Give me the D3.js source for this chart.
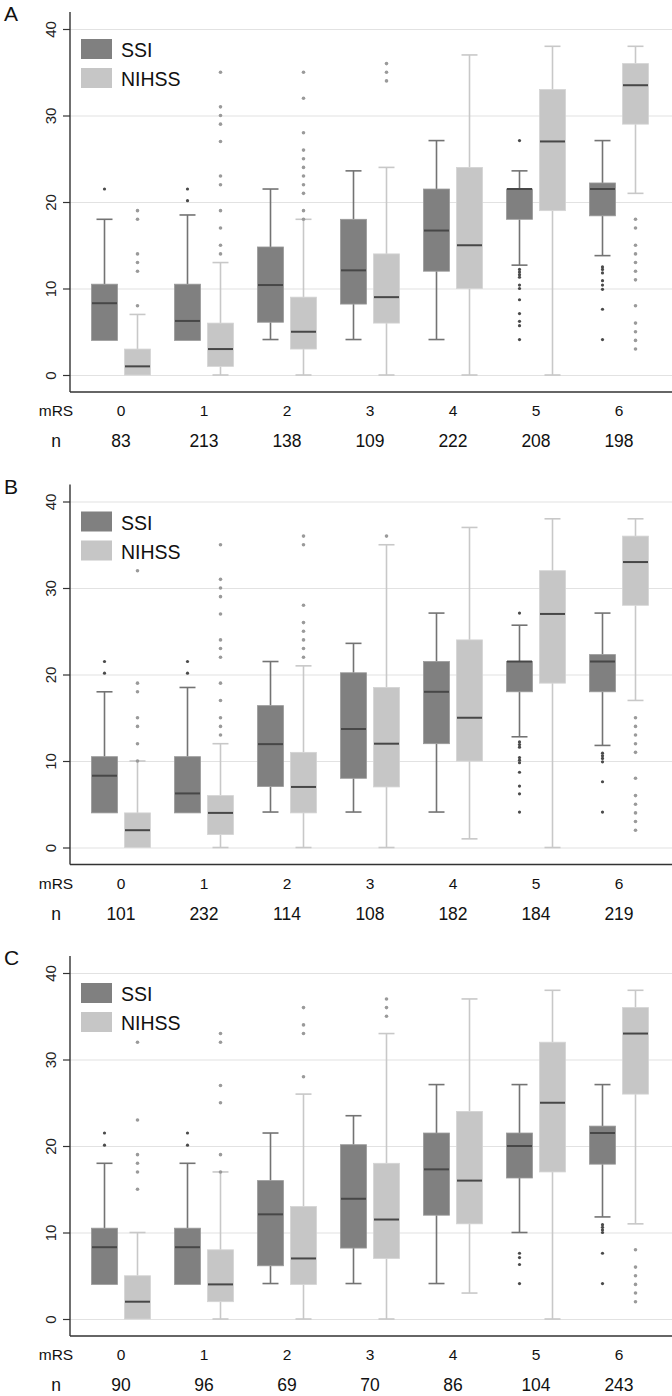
<!DOCTYPE html>
<html lang="en">
<head>
  <meta charset="UTF-8">
  <title>SSI vs NIHSS by mRS</title>
</head>
<style>
  body {
    margin: 0;
    background: #fff;
  }
  svg {
    display: block;
    font-family: "Liberation Sans", Arial, sans-serif;
  }
</style>
<body>
<svg width="672" height="1396"></svg>
<script src="https://cdn.jsdelivr.net/npm/d3@7"></script>
<script>
  const mrs = ['0', '1', '2', '3', '4', '5', '6'];
  const yTicks = [0, 10, 20, 30, 40];
  const series = ['SSI', 'NIHSS'];

  // box stats: [min, q1, median, q3, max]
  // panel A
  const nA = [83, 213, 138, 109, 222, 208, 198];
  const ssiA = [[4, 4, 8.3, 10.5, 18], [4, 4, 6.25, 10.5, 18.5], [4.1, 6.1, 10.4, 14.8, 21.5], [4.1, 8.2, 12.1, 18, 23.6],
    [4.1, 12, 16.7, 21.5, 27.1], [12.7, 18, 21.5, 21.5, 23.6], [13.8, 18.4, 21.5, 22.2, 27.1]];
  const ssiOutA = [[21.5], [21.5, 20.15], [], [], [], [27.1, 12.2, 11.9, 11.6, 11.3, 10.4, 10, 8.7, 7.1, 6.2, 5.7, 4.1],
    [12.5, 12.2, 11.8, 10.9, 10.4, 9.9, 7.6, 4.1]];
  const nihA = [[0, 0, 1, 3, 7], [0, 1, 3, 6, 13], [0, 3, 5, 9, 18], [0, 6, 9, 14, 24], [0, 10, 15, 24, 37],
    [0, 19, 27, 33, 38], [21, 29, 33.5, 36, 38]];
  const nihOutA = [[8, 12, 13, 14, 18, 19], [14, 15, 17, 19, 22, 23, 27, 29, 30, 31, 35],
    [18, 19, 21, 22, 23, 24, 25, 26, 28, 32, 35], [34, 35, 36], [], [], [18, 17, 15, 14, 13, 12, 11, 8, 6, 5, 4, 3]];

  // panel B
  const nB = [101, 232, 114, 108, 182, 184, 219];
  const ssiB = [[4, 4, 8.3, 10.5, 18], [4, 4, 6.25, 10.5, 18.5], [4.1, 7.05, 11.95, 16.4, 21.5], [4.1, 8, 13.7, 20.2, 23.6],
    [4.1, 12, 18, 21.5, 27.1], [12.8, 18, 21.5, 21.5, 25.7], [11.8, 18, 21.5, 22.3, 27.1]];
  const ssiOutB = [[21.5, 20.15], [21.5, 20.15], [], [], [], [27.1, 12.2, 11.9, 11.6, 10.4, 10.1, 9.8, 8.7, 7.1, 6.2, 4.1],
    [10.9, 10.6, 10.3, 9.9, 7.6, 4.1]];
  const nihB = [[0, 0, 2, 4, 10], [0, 1.5, 4, 6, 12], [0, 4, 7, 11, 21], [0, 7, 12, 18.5, 35], [1, 10, 15, 24, 37],
    [0, 19, 27, 32, 38], [17, 28, 33, 36, 38]];
  const nihOutB = [[10, 12, 14, 15, 18, 19, 32], [13, 14, 15, 17, 19, 22, 23, 24, 27, 29, 30, 31, 35],
    [22, 23, 24, 25, 26, 28, 35, 36], [36], [], [], [15, 14, 13, 12, 11, 8, 6, 5, 4, 3, 2]];

  // panel C
  const nC = [90, 96, 69, 70, 86, 104, 243];
  const ssiC = [[4, 4, 8.3, 10.5, 18], [4, 4, 8.3, 10.5, 18], [4.1, 6.15, 12.1, 16, 21.5], [4.1, 8.2, 13.9, 20.15, 23.5],
    [4.1, 12, 17.3, 21.5, 27.1], [10, 16.3, 20, 21.5, 27.1], [11.8, 17.9, 21.5, 22.3, 27.1]];
  const ssiOutC = [[21.5, 20.1], [21.5, 20.1], [], [], [], [7.6, 7.1, 6.3, 4.1], [10.9, 10.6, 10.3, 10, 7.6, 4.1]];
  const nihC = [[0, 0, 2, 5, 10], [0, 2, 4, 8, 17], [0, 4, 7, 13, 26], [0, 7, 11.5, 18, 33], [3, 11, 16, 24, 37],
    [0, 17, 25, 32, 38], [11, 26, 33, 36, 38]];
  const nihOutC = [[15, 17, 18, 19, 23, 32], [17, 19, 25, 27, 32, 33], [28, 33, 34, 36], [35, 36, 37], [], [],
    [8, 6, 5, 4, 3, 2]];

  const colors = {
    SSI: {fill: '#808080', edge: '#9a9a9a', whisker: '#737373', out: '#4a4a4a'},
    NIHSS: {fill: '#c6c6c6', edge: '#d4d4d4', whisker: '#c8c8c8', out: '#9a9a9a'}
  };

  const svg = d3.select('svg');
  const W = 672;
  const axisX = 70;
  const boxW = 26;
  const capW = 16;

  const x = d3.scaleBand().domain(mrs).range([79.5, 660.5]);
  const off = d3.scalePoint().domain(series).range([-16.5, 16.5]);
  const y = d3.scaleLinear().domain([0, 40]).range([375, 29]);

  function drawPanel(top, label, n, ssi, ssiOut, nih, nihOut) {
    const g = svg.append('g').attr('transform', `translate(0,${top})`);

    // grid
    g.append('g')
      .attr('transform', `translate(${axisX},0)`)
      .call(d3.axisLeft(y).tickValues(yTicks).tickSize(-(W - axisX)).tickFormat(''))
      .call(a => a.select('.domain').remove())
      .call(a => a.selectAll('line').attr('stroke', '#e2e2e2').attr('stroke-width', 1.2));

    // y axis ticks + labels
    const ya = g.append('g')
      .attr('transform', `translate(${axisX},0)`)
      .call(d3.axisLeft(y).tickValues(yTicks).tickSize(7).tickPadding(0));
    ya.select('.domain').remove();
    ya.selectAll('line').attr('stroke', '#333').attr('stroke-width', 1.2);
    ya.selectAll('text')
      .attr('x', null).attr('dy', null)
      .attr('transform', 'translate(-14,0) rotate(-90)')
      .attr('text-anchor', 'middle')
      .style('font-size', '15px')
      .attr('fill', '#222');

    // frame lines
    g.append('line').attr('x1', axisX).attr('x2', axisX).attr('y1', 12).attr('y2', 392)
      .attr('stroke', '#333').attr('stroke-width', 1.4);
    g.append('line').attr('x1', axisX).attr('x2', W).attr('y1', 392).attr('y2', 392)
      .attr('stroke', '#333').attr('stroke-width', 1.4);

    const groups = [
      {key: 'SSI', stats: ssi, out: ssiOut},
      {key: 'NIHSS', stats: nih, out: nihOut}
    ];

    groups.forEach(s => {
      const c = colors[s.key];
      const data = mrs.map((m, i) => ({m, st: s.stats[i], out: s.out[i],
        cx: x(m) + x.bandwidth() / 2 + off(s.key)}));
      const bg = g.append('g');

      // whiskers
      bg.selectAll('.wu').data(data).enter().append('line')
        .attr('x1', d => d.cx).attr('x2', d => d.cx)
        .attr('y1', d => y(d.st[3])).attr('y2', d => y(d.st[4]))
        .attr('stroke', c.whisker).attr('stroke-width', 1.6);
      bg.selectAll('.wl').data(data).enter().append('line')
        .attr('x1', d => d.cx).attr('x2', d => d.cx)
        .attr('y1', d => y(d.st[1])).attr('y2', d => y(d.st[0]))
        .attr('stroke', c.whisker).attr('stroke-width', 1.6);
      [0, 4].forEach(k => {
        bg.selectAll('.cap' + k).data(data.filter(d => k === 0 ? d.st[0] < d.st[1] : d.st[4] > d.st[3]))
          .enter().append('line')
          .attr('x1', d => d.cx - capW / 2).attr('x2', d => d.cx + capW / 2)
          .attr('y1', d => y(d.st[k])).attr('y2', d => y(d.st[k]))
          .attr('stroke', c.whisker).attr('stroke-width', 1.6);
      });

      // boxes
      bg.selectAll('rect').data(data).enter().append('rect')
        .attr('x', d => d.cx - boxW / 2)
        .attr('width', boxW)
        .attr('y', d => y(d.st[3]))
        .attr('height', d => y(d.st[1]) - y(d.st[3]))
        .attr('fill', c.fill)
        .attr('stroke', c.edge).attr('stroke-width', 0.8);

      // medians
      bg.selectAll('.med').data(data).enter().append('line')
        .attr('x1', d => d.cx - boxW / 2 + 0.5).attr('x2', d => d.cx + boxW / 2 - 0.5)
        .attr('y1', d => y(d.st[2])).attr('y2', d => y(d.st[2]))
        .attr('stroke', '#474747').attr('stroke-width', 2);

      // outliers
      const pts = [];
      data.forEach(d => d.out.forEach(v => pts.push({cx: d.cx, v})));
      bg.selectAll('circle').data(pts).enter().append('circle')
        .attr('cx', d => d.cx).attr('cy', d => y(d.v))
        .attr('r', s.key === 'SSI' ? 1.6 : 1.8)
        .attr('fill', c.out);
    });

    // legend
    const lg = g.append('g');
    series.forEach((k, i) => {
      lg.append('rect').attr('x', 81).attr('y', 39 + i * 29).attr('width', 31).attr('height', 20)
        .attr('fill', colors[k].fill);
      lg.append('text').attr('x', 121).attr('y', 57 + i * 29).text(k)
        .style('font-size', '19.5px').attr('fill', '#111');
    });

    // panel letter
    g.append('text').attr('x', 4).attr('y', 21).text(label)
      .style('font-size', '21px').attr('fill', '#111');

    // category row + n row
    g.append('text').attr('x', 56).attr('y', 416).attr('text-anchor', 'middle').text('mRS')
      .style('font-size', '15.5px').attr('fill', '#111');
    g.append('text').attr('x', 56).attr('y', 447).attr('text-anchor', 'middle').text('n')
      .style('font-size', '17.5px').attr('fill', '#111');
    g.selectAll('.cat').data(mrs).enter().append('text')
      .attr('x', d => x(d) + x.bandwidth() / 2).attr('y', 416)
      .attr('text-anchor', 'middle').text(d => d)
      .style('font-size', '15.5px').attr('fill', '#111');
    g.selectAll('.nval').data(n).enter().append('text')
      .attr('x', (d, i) => x(mrs[i]) + x.bandwidth() / 2).attr('y', 447)
      .attr('text-anchor', 'middle').text(d => d)
      .style('font-size', '17.5px').attr('fill', '#111');
  }

  drawPanel(0, 'A', nA, ssiA, ssiOutA, nihA, nihOutA);
  drawPanel(472.5, 'B', nB, ssiB, ssiOutB, nihB, nihOutB);
  drawPanel(944, 'C', nC, ssiC, ssiOutC, nihC, nihOutC);
</script>
</body>
</html>
